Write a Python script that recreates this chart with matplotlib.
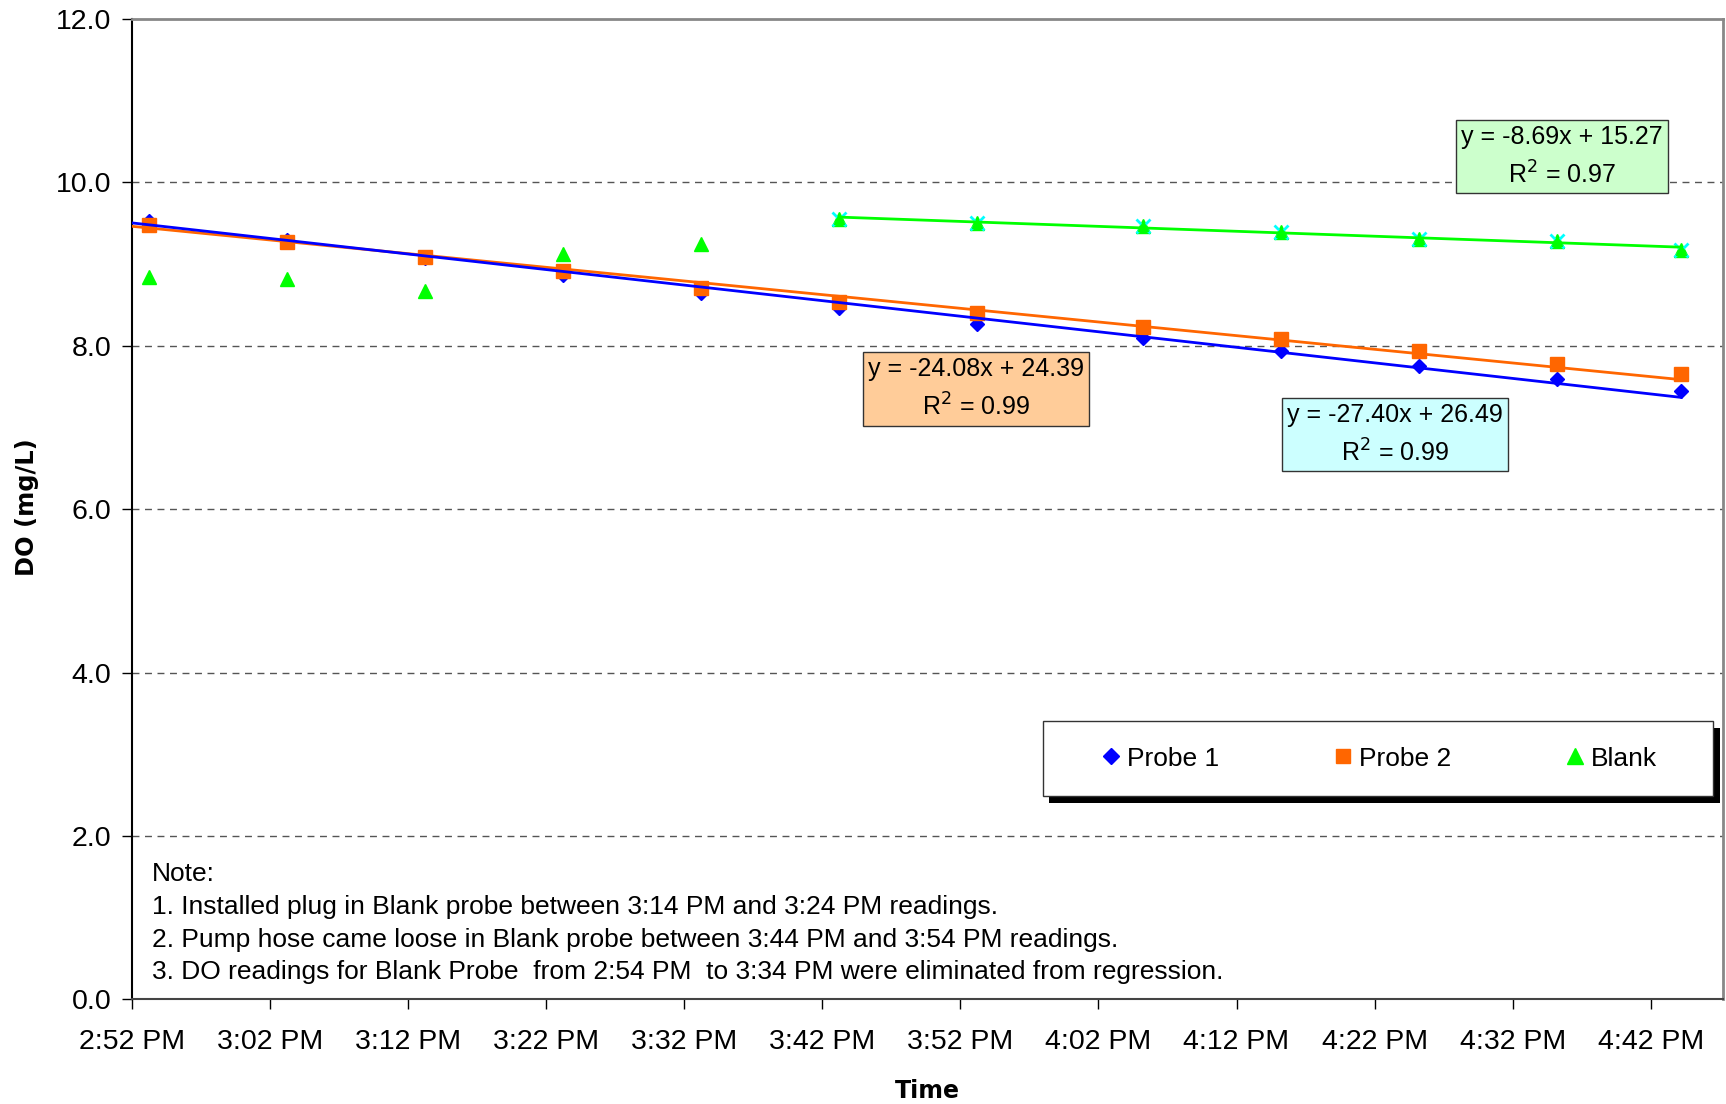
import numpy as np
import matplotlib
matplotlib.use("Agg")
import matplotlib.pyplot as plt
from matplotlib.lines import Line2D
from matplotlib.patches import Rectangle
from matplotlib.ticker import FixedLocator, FuncFormatter

plt.rcParams["font.family"] = ["Liberation Sans", "DejaVu Sans"]

# readings (clock times) and DO values (mg/L)
times = ["2:54 PM", "3:04 PM", "3:14 PM", "3:24 PM", "3:34 PM", "3:44 PM",
         "3:54 PM", "4:06 PM", "4:16 PM", "4:26 PM", "4:36 PM", "4:45 PM"]
probe1 = [9.53, 9.29, 9.07, 8.87, 8.65, 8.46, 8.27, 8.09, 7.93, 7.75, 7.59, 7.44]
probe2 = [9.48, 9.27, 9.08, 8.91, 8.71, 8.54, 8.40, 8.23, 8.08, 7.93, 7.78, 7.65]
blank = [8.84, 8.81, 8.67, 9.12, 9.25, 9.55, 9.50, 9.46, 9.39, 9.31, 9.28, 9.17]
blank_fit_start = 5  # first blank reading used in regression (3:44 PM)

# trendline coefficients (x in fraction of a day)
fit_p1 = (-27.40, 26.49)
fit_p2 = (-24.08, 24.39)
fit_bl = (-8.69, 15.27)
r2_p1, r2_p2, r2_bl = 0.99, 0.99, 0.97

notes = ["Note:",
         "1. Installed plug in Blank probe between 3:14 PM and 3:24 PM readings.",
         "2. Pump hose came loose in Blank probe between 3:44 PM and 3:54 PM readings.",
         "3. DO readings for Blank Probe  from 2:54 PM  to 3:34 PM were eliminated from regression."]


def to_day(s):
    hm, ampm = s.split()
    h, m = map(int, hm.split(":"))
    if ampm == "PM" and h != 12:
        h += 12
    return (h * 60 + m) / 1440.0


def fmt_time(x, pos=None):
    tot = int(np.floor(x * 1440 + 1e-6))
    h, m = divmod(tot, 60)
    suf = "PM" if h >= 12 else "AM"
    h12 = h - 12 if h > 12 else h
    return f"{h12}:{m:02d} {suf}"


x = np.array([to_day(t) for t in times])
xmin, xmax = 0.62, 0.70

fig = plt.figure(figsize=(17.26, 11.04), dpi=100)
ax = fig.add_axes([0.0765, 0.0947, 0.9215, 0.8883])

ax.plot(x, probe1, linestyle="none", marker="D", ms=7.5, color="#0000FF", zorder=3)
ax.plot(x, probe2, linestyle="none", marker="s", ms=9.5, color="#FF6600", zorder=4)
ax.plot(x, blank, linestyle="none", marker="^", ms=10, color="#00FF00", zorder=3)
ax.plot(x[blank_fit_start:], blank[blank_fit_start:], linestyle="none", marker="x",
        ms=10, mew=2, color="#00FFFF", zorder=4)
ax.plot(x[blank_fit_start:], blank[blank_fit_start:], linestyle="none", marker="^",
        ms=7, color="#00FF00", zorder=4)

# trendlines
xs = np.array([xmin, x[-1]])
ax.plot(xs, fit_p2[0] * xs + fit_p2[1], color="#FF6600", lw=2, zorder=5)
ax.plot(xs, fit_p1[0] * xs + fit_p1[1], color="#0000FF", lw=2, zorder=6)
xb = np.array([x[blank_fit_start], x[-1]])
ax.plot(xb, fit_bl[0] * xb + fit_bl[1], color="#00FF00", lw=2, zorder=5)

ax.set_xlim(xmin, xmax)
ax.set_ylim(0, 12)
ax.xaxis.set_major_locator(FixedLocator(xmin + np.arange(12) / 144.0))
ax.xaxis.set_major_formatter(FuncFormatter(fmt_time))
ax.set_yticks(np.arange(0, 12.1, 2))
ax.yaxis.set_major_formatter(FuncFormatter(lambda v, p: f"{v:.1f}"))
ax.tick_params(labelsize=20.5, length=7, width=1, direction="out")
ax.tick_params(axis="x", pad=14)
ax.tick_params(axis="y", pad=8)

for yv in np.arange(2, 11, 2):
    ax.axhline(yv, color="#555555", lw=1, ls=(0, (5, 4)), zorder=1)

for side in ["top", "right"]:
    ax.spines[side].set_color("#888888")
    ax.spines[side].set_linewidth(2)
ax.spines["left"].set_color("black")
ax.spines["left"].set_linewidth(1.5)
ax.spines["bottom"].set_color("#444444")
ax.spines["bottom"].set_linewidth(1.5)

ax.set_xlabel("Time", fontsize=17, fontweight="bold", family="DejaVu Sans")
ax.set_ylabel("DO (mg/L)", fontsize=17.4, fontweight="bold", family="DejaVu Sans")
ax.xaxis.set_label_coords(0.5003, -0.081)
ax.yaxis.set_label_coords(-0.0588, 0.5016)

# equation boxes
def eq_box(xa, ya, slope, icpt, r2, fc):
    sign = "+" if icpt >= 0 else "-"
    txt = f"y = {slope:.2f}x {sign} {abs(icpt):.2f}\nR$^2$ = {r2:.2f}"
    ax.text(xa, ya, txt, transform=ax.transAxes, ha="center", va="center",
            fontsize=18, linespacing=1.55, zorder=7,
            bbox=dict(boxstyle="square,pad=0.2", fc=fc, ec="#333333", lw=1))

eq_box(0.8991, 0.8595, fit_bl[0], fit_bl[1], r2_bl, "#CCFFCC")
eq_box(0.5305, 0.6224, fit_p2[0], fit_p2[1], r2_p2, "#FFCC99")
eq_box(0.7939, 0.5761, fit_p1[0], fit_p1[1], r2_p1, "#CCFFFF")

ax.text(0.0125, 0.140, "\n".join(notes), transform=ax.transAxes, ha="left", va="top",
        fontsize=19, linespacing=1.46)

# legend frame with black drop shadow
lx, ly, lw_, lh = 0.5726, 0.2074, 0.4217, 0.0765
ax.add_patch(Rectangle((lx + 0.0038, ly - 0.0066), lw_, lh, transform=ax.transAxes,
                       fc="black", ec="none", zorder=8, clip_on=False))
ax.add_patch(Rectangle((lx, ly), lw_, lh, transform=ax.transAxes,
                       fc="white", ec="#333333", lw=1, zorder=9, clip_on=False))

handles = [Line2D([], [], ls="none", marker="D", ms=8, color="#0000FF"),
           Line2D([], [], ls="none", marker="s", ms=10, color="#FF6600"),
           Line2D([], [], ls="none", marker="^", ms=11, color="#00FF00")]
leg = ax.legend(handles, ["Probe 1", "Probe 2", "Blank"], ncol=3, loc="center",
                bbox_to_anchor=(0.607, ly, 0.352, lh), mode="expand",
                fontsize=19, frameon=False, borderpad=0, borderaxespad=0,
                handletextpad=0.1, handlelength=1.0)
leg.set_zorder(10)

fig.savefig("out.png", dpi=100)
